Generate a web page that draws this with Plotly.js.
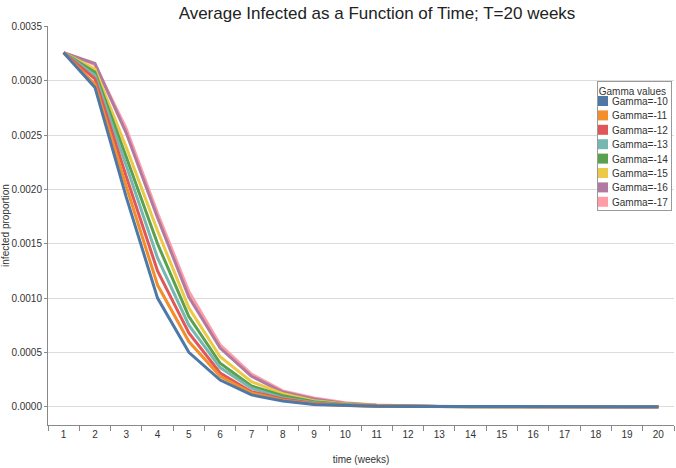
<!DOCTYPE html>
<html>
<head>
<meta charset="utf-8">
<script src="https://cdn.plot.ly/plotly-3.0.1.min.js"></script>
<style>html,body{margin:0;padding:0;background:#fff;}#chart{width:676px;height:468px;}</style>
</head>
<body>
<div id="chart"></div>
<script>
const weeks = ["1","2","3","4","5","6","7","8","9","10","11","12","13","14","15","16","17","18","19","20"];
const seriesNames = ["Gamma=-10","Gamma=-11","Gamma=-12","Gamma=-13","Gamma=-14","Gamma=-15","Gamma=-16","Gamma=-17"];
const seriesColors = ["#4e79a7","#f28e2b","#e15759","#76b7b2","#59a14f","#edc948","#b07aa1","#ff9da7"];
const gamma10 = [0.00326,0.00294,0.00193,0.00100,0.00050,0.000245,0.000108,0.000052,0.00002,0.000008,0.000003,0.000001,0,0,0,0,0,0,0,0];
const gamma11 = [0.00326,0.00297,0.00203,0.00112,0.00060,0.00028,0.000126,0.00006,0.000025,0.00001,0.000004,0.000001,0,0,0,0,0,0,0,0];
const gamma12 = [0.00326,0.00302,0.00212,0.00125,0.00068,0.00031,0.000138,0.00007,0.00003,0.000012,0.000005,0.000002,0.000001,0,0,0,0,0,0,0];
const gamma13 = [0.00326,0.00305,0.00222,0.00137,0.00075,0.00036,0.00017,0.00008,0.000035,0.000015,0.000006,0.000002,0.000001,0,0,0,0,0,0,0];
const gamma14 = [0.00326,0.00308,0.00230,0.00150,0.00083,0.00040,0.00019,0.00010,0.000045,0.00002,0.000008,0.000003,0.000001,0,0,0,0,0,0,0];
const gamma15 = [0.00326,0.00311,0.00239,0.00162,0.00091,0.00046,0.00023,0.00012,0.000055,0.000025,0.00001,0.000004,0.000002,0.000001,0,0,0,0,0,0];
const gamma16 = [0.00326,0.00316,0.00252,0.00174,0.00101,0.00054,0.00028,0.000135,0.00007,0.00003,0.000013,0.000005,0.000002,0.000001,0,0,0,0,0,0];
const gamma17 = [0.00326,0.00315,0.00256,0.00178,0.00106,0.00057,0.00030,0.000145,0.00008,0.000035,0.000015,0.000006,0.000002,0.000001,0,0,0,0,0,0];
const allSeries = [gamma10,gamma11,gamma12,gamma13,gamma14,gamma15,gamma16,gamma17];

const traces = [];
// draw last series first so Gamma=-10 sits on top
for (let i = allSeries.length - 1; i >= 0; i--) {
  traces.push({
    type: 'scatter', mode: 'lines', x: weeks, y: allSeries[i],
    name: seriesNames[i], showlegend: false,
    line: {color: seriesColors[i], width: 3}
  });
}
// legend entries with square swatches
for (let i = 0; i < allSeries.length; i++) {
  traces.push({
    type: 'scatter', mode: 'markers', x: [null], y: [null],
    name: seriesNames[i], showlegend: true,
    marker: {symbol: 'square', size: 10, color: seriesColors[i]}
  });
}

const layout = {
  width: 676, height: 468,
  margin: {l: 48, r: 2, t: 26, b: 43},
  paper_bgcolor: '#fff', plot_bgcolor: '#fff',
  font: {family: 'Liberation Sans, Arial, sans-serif', color: '#333', size: 10},
  title: {text: 'Average Infected as a Function of Time; T=20 weeks',
          font: {size: 17, color: '#222'}, x: 377/676, xanchor: 'center', y: 0.972, yanchor: 'middle'},
  xaxis: {
    type: 'category', range: [-0.5, 19.5], tickson: 'boundaries',
    ticks: 'outside', ticklen: 5, tickcolor: '#888', showline: true, linecolor: '#888',
    showgrid: false, zeroline: false, tickfont: {size: 10, color: '#333'},
    title: {text: 'time (weeks)', font: {size: 10, color: '#333'}, standoff: 16}
  },
  yaxis: {
    range: [-0.000169, 0.003506], tickvals: [0,0.0005,0.001,0.0015,0.002,0.0025,0.003,0.0035],
    tickformat: '.4f', ticks: 'outside', ticklen: 3, tickcolor: '#888',
    showline: true, linecolor: '#888', gridcolor: '#dcdcdc', gridwidth: 1,
    zeroline: false, tickfont: {size: 10, color: '#333'},
    title: {text: 'infected proportion', font: {size: 10, color: '#333'}, standoff: 1}
  },
  legend: {
    x: 1, y: (425-81)/399, xanchor: 'right', yanchor: 'top',
    bgcolor: '#fff', bordercolor: '#999', borderwidth: 1,
    font: {size: 10, color: '#333'}, tracegroupgap: 0,
    title: {text: 'Gamma values', font: {size: 10, color: '#333'}, side: 'top right'}
  },
  showlegend: true
};

Plotly.newPlot('chart', traces, layout, {staticPlot: true}).then(function (gd) {
  // compact the legend to the reference spacing
  const leg = gd.querySelector('.legend');
  if (!leg) return;
  const items = leg.querySelectorAll('.traces');
  const step = 14.4, first = 20;
  items.forEach(function (el, i) {
    const t = el.getAttribute('transform') || '';
    const m = t.match(/translate\(\s*([-\d.]+)[ ,]+([-\d.]+)\s*\)/);
    const tx = m ? parseFloat(m[1]) : 0;
    el.setAttribute('transform', 'translate(' + (tx + 12) + ',' + (first + i * step) + ')');
    const txt = el.querySelector('text.legendtext');
    if (txt) txt.setAttribute('x', 29);
  });
  const ttl = leg.querySelector('text.legendtitletext');
  if (ttl) {
    const tx0 = parseFloat(ttl.getAttribute('x') || 0);
    ttl.setAttribute('x', tx0 - 5);
    ttl.querySelectorAll('tspan[x]').forEach(function (s) {
      s.setAttribute('x', parseFloat(s.getAttribute('x')) - 5);
    });
  }
  const bg = leg.querySelector('rect.bg');
  if (bg) {
    const w = parseFloat(bg.getAttribute('width'));
    const x0 = parseFloat(bg.getAttribute('x') || 0);
    const shift = 27;
    bg.setAttribute('x', x0 + shift);
    bg.setAttribute('width', w - shift - 2);
    bg.setAttribute('height', 129);
  }
});
</script>
</body>
</html>
